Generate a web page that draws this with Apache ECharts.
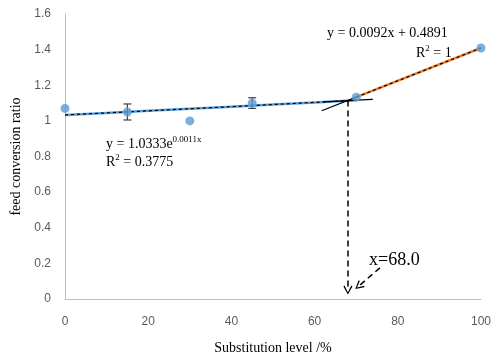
<!DOCTYPE html>
<html>
<head>
<meta charset="utf-8">
<script src="https://cdn.jsdelivr.net/npm/echarts@6/dist/echarts.min.js"></script>
<style>html,body{margin:0;padding:0;background:#fff}#c{width:502px;height:360px}</style>
</head>
<body>
<div id="c"></div>
<script>
// ---- data ----
const levels = [0, 15, 30, 45, 70, 100];
const fcr = [1.07, 1.05, 1.00, 1.10, 1.133, 1.409];
const fcrErr = [0, 0.045, 0, 0.03, 0, 0];
const xTicks = [0, 20, 40, 60, 80, 100];
const yTicks = [0, 0.2, 0.4, 0.6, 0.8, 1.0, 1.2, 1.4, 1.6];
// trendline equations shown in the chart
const expA = 1.0333, expB = 0.0011;      // y = 1.0333 e^(0.0011x), x 0..70
const linM = 0.0092, linC = 0.4891;      // y = 0.0092x + 0.4891, x 70..100
const expRangeX = [0, 10, 20, 30, 40, 50, 60, 70];
const linRangeX = [70, 100];
const expExtX = [62, 66, 70, 74];
const linExtX = [61.7, 70];
const breakX = 68.0;

const expF = x => expA * Math.exp(expB * x);
const linF = x => linM * x + linC;
const expLine = expRangeX.map(x => [x, expF(x)]);
const linLine = linRangeX.map(x => [x, linF(x)]);
const expExt = expExtX.map(x => [x, expF(x)]);
const linExt = linExtX.map(x => [x, linF(x)]);
const pts = levels.map((x, i) => [x, fcr[i]]);
const errData = levels.map((x, i) => [x, fcr[i], fcrErr[i]]).filter(d => d[2] > 0);

const chev = 'path://M5,0 L10,9 L8.8,10 L5,2.6 L1.2,10 L0,9 Z';
const serif = '"Liberation Serif","Times New Roman",serif';
const sans = '"Liberation Sans",Arial,sans-serif';

const chart = echarts.init(document.getElementById('c'), null, {renderer: 'canvas'});
const rich = {
  n: {fontFamily: serif, fontSize: 14, color: '#000', lineHeight: 18},
  s: {fontFamily: serif, fontSize: 9, color: '#000', lineHeight: 9, verticalAlign: 'top'}
};
chart.setOption({
  animation: false,
  backgroundColor: '#fff',
  grid: {left: 65, right: 21, top: 14, bottom: 55},
  xAxis: {
    type: 'value', min: 0, max: 100, interval: 20,
    name: 'Substitution level /%', nameLocation: 'middle', nameGap: 42,
    nameTextStyle: {fontFamily: serif, fontSize: 14, color: '#000'},
    axisLine: {lineStyle: {color: '#BFBFBF', width: 1}},
    axisTick: {show: false}, splitLine: {show: false},
    axisLabel: {color: '#595959', fontFamily: sans, fontSize: 12, margin: 17}
  },
  yAxis: {
    type: 'value', min: 0, max: 1.6, interval: 0.2,
    name: 'feed conversion ratio', nameLocation: 'middle', nameGap: 32,
    nameTextStyle: {fontFamily: serif, fontSize: 14, color: '#000'},
    axisLine: {show: true, lineStyle: {color: '#BFBFBF', width: 1}},
    axisTick: {show: false}, splitLine: {show: false},
    axisLabel: {color: '#595959', fontFamily: sans, fontSize: 12, margin: 14,
      formatter: v => String(+v.toFixed(1))}
  },
  series: [
    {type: 'line', data: expLine, showSymbol: false, lineStyle: {color: '#5B9BD5', width: 2.5}, z: 2},
    {type: 'line', data: expLine, showSymbol: false, lineStyle: {color: '#000', width: 1.2, type: [3, 3]}, z: 3},
    {type: 'line', data: linLine, showSymbol: false, lineStyle: {color: '#ED7D31', width: 2.5}, z: 2},
    {type: 'line', data: linLine, showSymbol: false, lineStyle: {color: '#000', width: 1.2, type: [3, 3]}, z: 3},
    {type: 'line', data: expExt, showSymbol: false, lineStyle: {color: '#000', width: 1.2}, z: 3},
    {type: 'line', data: linExt, showSymbol: false, lineStyle: {color: '#000', width: 1.2}, z: 3,
      markLine: {
        silent: true, animation: false, label: {show: false},
        symbol: ['none', chev], symbolSize: [9, 9],
        lineStyle: {color: '#000', width: 1.5, type: [6, 4]},
        data: [
          [{coord: [breakX, linF(breakX)]}, {coord: [breakX, 0.05]}],
          [{coord: [75.7, 0.175]}, {coord: [70.6, 0.072]}]
        ]
      }
    },
    {
      type: 'custom', data: errData, z: 4,
      renderItem: (params, api) => {
        const x = api.value(0), y = api.value(1), e = api.value(2);
        const top = api.coord([x, y + e]), bot = api.coord([x, y - e]);
        const st = {stroke: '#404040', lineWidth: 1.2};
        return {type: 'group', children: [
          {type: 'line', shape: {x1: top[0], y1: top[1], x2: bot[0], y2: bot[1]}, style: st},
          {type: 'line', shape: {x1: top[0] - 4, y1: top[1], x2: top[0] + 4, y2: top[1]}, style: st},
          {type: 'line', shape: {x1: bot[0] - 4, y1: bot[1], x2: bot[0] + 4, y2: bot[1]}, style: st}
        ]};
      }
    },
    {type: 'scatter', data: pts, symbolSize: 9, itemStyle: {color: '#5B9BD5'}, z: 5}
  ],
  graphic: [
    {type: 'text', left: 106, top: 135, z: 10, style: {
      text: '{n|y = 1.0333e}{s|0.0011x}\n{n|R}{s|2}{n| = 0.3775}', rich: rich}},
    {type: 'text', left: 327, top: 26, z: 10, style: {
      text: '{n|y = 0.0092x + 0.4891}', rich: rich}},
    {type: 'text', left: 416, top: 44, z: 10, style: {
      text: '{n|R}{s|2}{n| = 1}', rich: rich}},
    {type: 'text', left: 369, top: 251, z: 10, style: {
      text: 'x=68.0', fontFamily: serif, fontSize: 18, fill: '#000'}}
  ]
});
</script>
</body>
</html>
